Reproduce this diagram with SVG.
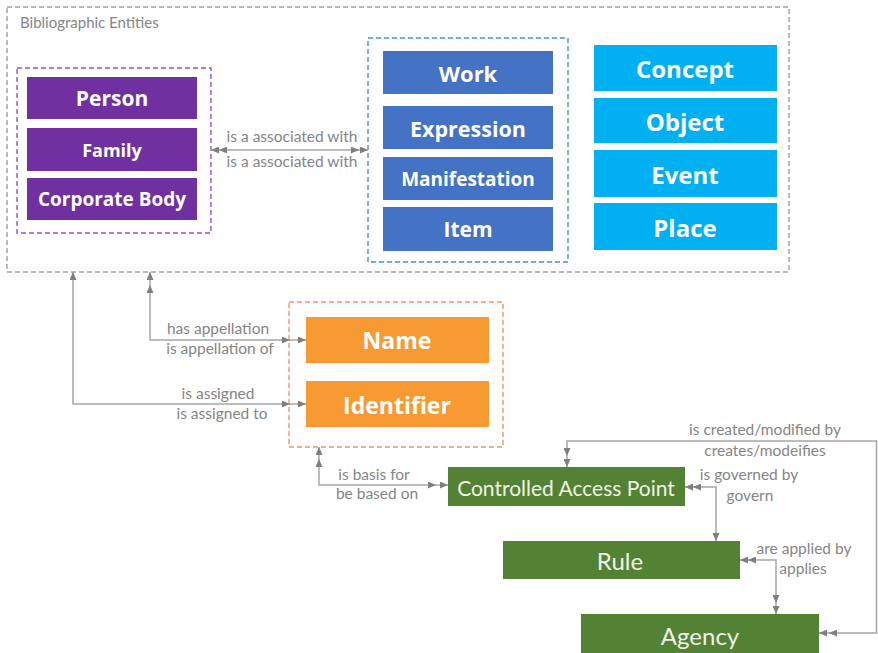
<svg xmlns="http://www.w3.org/2000/svg" width="878" height="653" viewBox="0 0 878 653">
  <defs>
    <marker id="ah" viewBox="0 0 8 7" refX="8" refY="3.5" markerWidth="8" markerHeight="7" markerUnits="userSpaceOnUse" orient="auto-start-reverse">
      <path d="M0,0 L8,3.5 L0,7 z" fill="#7f7f7f"/>
    </marker>
    <style>
      .frame { fill: none; stroke-width: 1.4; stroke-dasharray: 5 3; }
      .outer { stroke: #a0a0a0; }
      .purple { stroke: #9a4fd0; }
      .blue { stroke: #3d95d8; }
      .orange { stroke: #ee9560; }
      .lbl { font-family: "Open Sans", "Noto Sans", sans-serif; font-weight: bold; fill: #ffffff; text-anchor: middle; dominant-baseline: central; }
      .glbl { font-family: Lato, "Liberation Sans", sans-serif; fill: #eef4e6; text-anchor: middle; dominant-baseline: central; }
      .rel { font-family: Lato, "Liberation Sans", sans-serif; font-size: 15.5px; fill: #858585; text-anchor: middle; }
      .title { font-family: Lato, "Liberation Sans", sans-serif; font-size: 15px; fill: #858585; }
      .ln { fill: none; stroke: #a6a6a6; stroke-width: 1.5; }
      .tip { fill: none; stroke: none; marker-end: url(#ah); }
      .p { fill: #7030a0; }
      .b { fill: #4472c4; }
      .c { fill: #00b0f0; }
      .o { fill: #f79a32; }
      .g { fill: #548235; }
    </style>
  </defs>

  <rect width="878" height="653" fill="#ffffff"/>

  <!-- grouping frames -->
  <g id="frame-bibliographic">
    <rect class="frame outer" x="7" y="7" width="782" height="265"/>
    <text class="title" x="20" y="28">Bibliographic Entities</text>
  </g>
  <rect id="frame-agents" class="frame purple" x="17" y="68" width="194" height="165"/>
  <rect id="frame-wemi" class="frame blue" x="368" y="38" width="200" height="224"/>
  <rect id="frame-appellation" class="frame orange" x="289" y="302" width="214" height="145"/>

  <!-- agents -->
  <g id="person"><rect class="p" x="27" y="77" width="170" height="42"/><text class="lbl" x="112" y="98" font-size="21">Person</text></g>
  <g id="family"><rect class="p" x="27" y="128" width="170" height="43"/><text class="lbl" x="112" y="150" font-size="18">Family</text></g>
  <g id="corporate-body"><rect class="p" x="27" y="178" width="170" height="42"/><text class="lbl" x="112" y="199" font-size="19">Corporate Body</text></g>

  <!-- WEMI -->
  <g id="work"><rect class="b" x="383" y="51" width="170" height="43"/><text class="lbl" x="468" y="73" font-size="22">Work</text></g>
  <g id="expression"><rect class="b" x="383" y="106" width="170" height="43"/><text class="lbl" x="468" y="128" font-size="21.5">Expression</text></g>
  <g id="manifestation"><rect class="b" x="383" y="157" width="170" height="43"/><text class="lbl" x="468" y="179" font-size="19">Manifestation</text></g>
  <g id="item"><rect class="b" x="383" y="207" width="170" height="44"/><text class="lbl" x="468" y="229" font-size="21">Item</text></g>

  <!-- subjects -->
  <g id="concept"><rect class="c" x="594" y="45" width="183" height="46"/><text class="lbl" x="685" y="68" font-size="24">Concept</text></g>
  <g id="object"><rect class="c" x="594" y="98" width="183" height="45"/><text class="lbl" x="685" y="121" font-size="24">Object</text></g>
  <g id="event"><rect class="c" x="594" y="150" width="183" height="47"/><text class="lbl" x="685" y="174" font-size="24">Event</text></g>
  <g id="place"><rect class="c" x="594" y="203" width="183" height="47"/><text class="lbl" x="685" y="227" font-size="24">Place</text></g>

  <!-- appellations -->
  <g id="name"><rect class="o" x="306" y="317" width="183" height="46"/><text class="lbl" x="397" y="340" font-size="23">Name</text></g>
  <g id="identifier"><rect class="o" x="306" y="381" width="183" height="46"/><text class="lbl" x="397" y="405" font-size="23">Identifier</text></g>

  <!-- access points and agencies -->
  <g id="controlled-access-point"><rect class="g" x="448" y="467" width="237" height="39"/><text class="glbl" x="566" y="487" font-size="21">Controlled Access Point</text></g>
  <g id="rule"><rect class="g" x="503" y="541" width="237" height="38"/><text class="glbl" x="620" y="560" font-size="24">Rule</text></g>
  <g id="agency"><rect class="g" x="581" y="614" width="238" height="45"/><text class="glbl" x="700" y="635" font-size="24">Agency</text></g>

  <!-- relationships -->
  <g id="connectors">
    <!-- agents <-> WEMI -->
    <path class="ln" d="M211,150 H368" marker-start="url(#ah)" marker-end="url(#ah)"/>
    <path class="tip" d="M230,150 L219,150"/>
    <path class="tip" d="M349,150 L359,150"/>
    <text class="rel" x="292" y="142">is a associated with</text>
    <text class="rel" x="292" y="167">is a associated with</text>

    <!-- appellation -->
    <path class="ln" d="M150,272 V340 H306" marker-start="url(#ah)" marker-end="url(#ah)"/>
    <path class="tip" d="M150,295 L150,285"/>
    <path class="tip" d="M280,340 L290,340"/>
    <text class="rel" x="218" y="334">has appellation</text>
    <text class="rel" x="220" y="354">is appellation of</text>

    <!-- identifier -->
    <path class="ln" d="M73,272 V404 H306" marker-start="url(#ah)" marker-end="url(#ah)"/>
    <path class="tip" d="M280,404 L290,404"/>
    <text class="rel" x="218" y="399">is assigned</text>
    <text class="rel" x="222" y="419">is assigned to</text>

    <!-- basis -->
    <path class="ln" d="M319,447 V485 H448" marker-start="url(#ah)" marker-end="url(#ah)"/>
    <path class="tip" d="M319,468 L319,459"/>
    <path class="tip" d="M426,485 L436,485"/>
    <text class="rel" x="374" y="480">is basis for</text>
    <text class="rel" x="377" y="499">be based on</text>

    <!-- created / modified -->
    <path class="ln" d="M567,467 V441 H876.5 V633 H819" marker-start="url(#ah)" marker-end="url(#ah)"/>
    <path class="tip" d="M567,446 L567,456"/>
    <path class="tip" d="M840,633 L829,633"/>
    <text class="rel" x="765" y="435">is created/modified by</text>
    <text class="rel" x="765" y="456">creates/modeifies</text>

    <!-- governed -->
    <path class="ln" d="M685,487 H716 V541" marker-start="url(#ah)" marker-end="url(#ah)"/>
    <path class="tip" d="M705,487 L693,487"/>
    <text class="rel" x="749" y="480">is governed by</text>
    <text class="rel" x="750" y="501">govern</text>

    <!-- applied -->
    <path class="ln" d="M740,560 H776 V614" marker-start="url(#ah)" marker-end="url(#ah)"/>
    <path class="tip" d="M762,560 L748,560"/>
    <path class="tip" d="M776,592 L776,603"/>
    <text class="rel" x="804" y="554">are applied by</text>
    <text class="rel" x="803" y="574">applies</text>
  </g>
</svg>
